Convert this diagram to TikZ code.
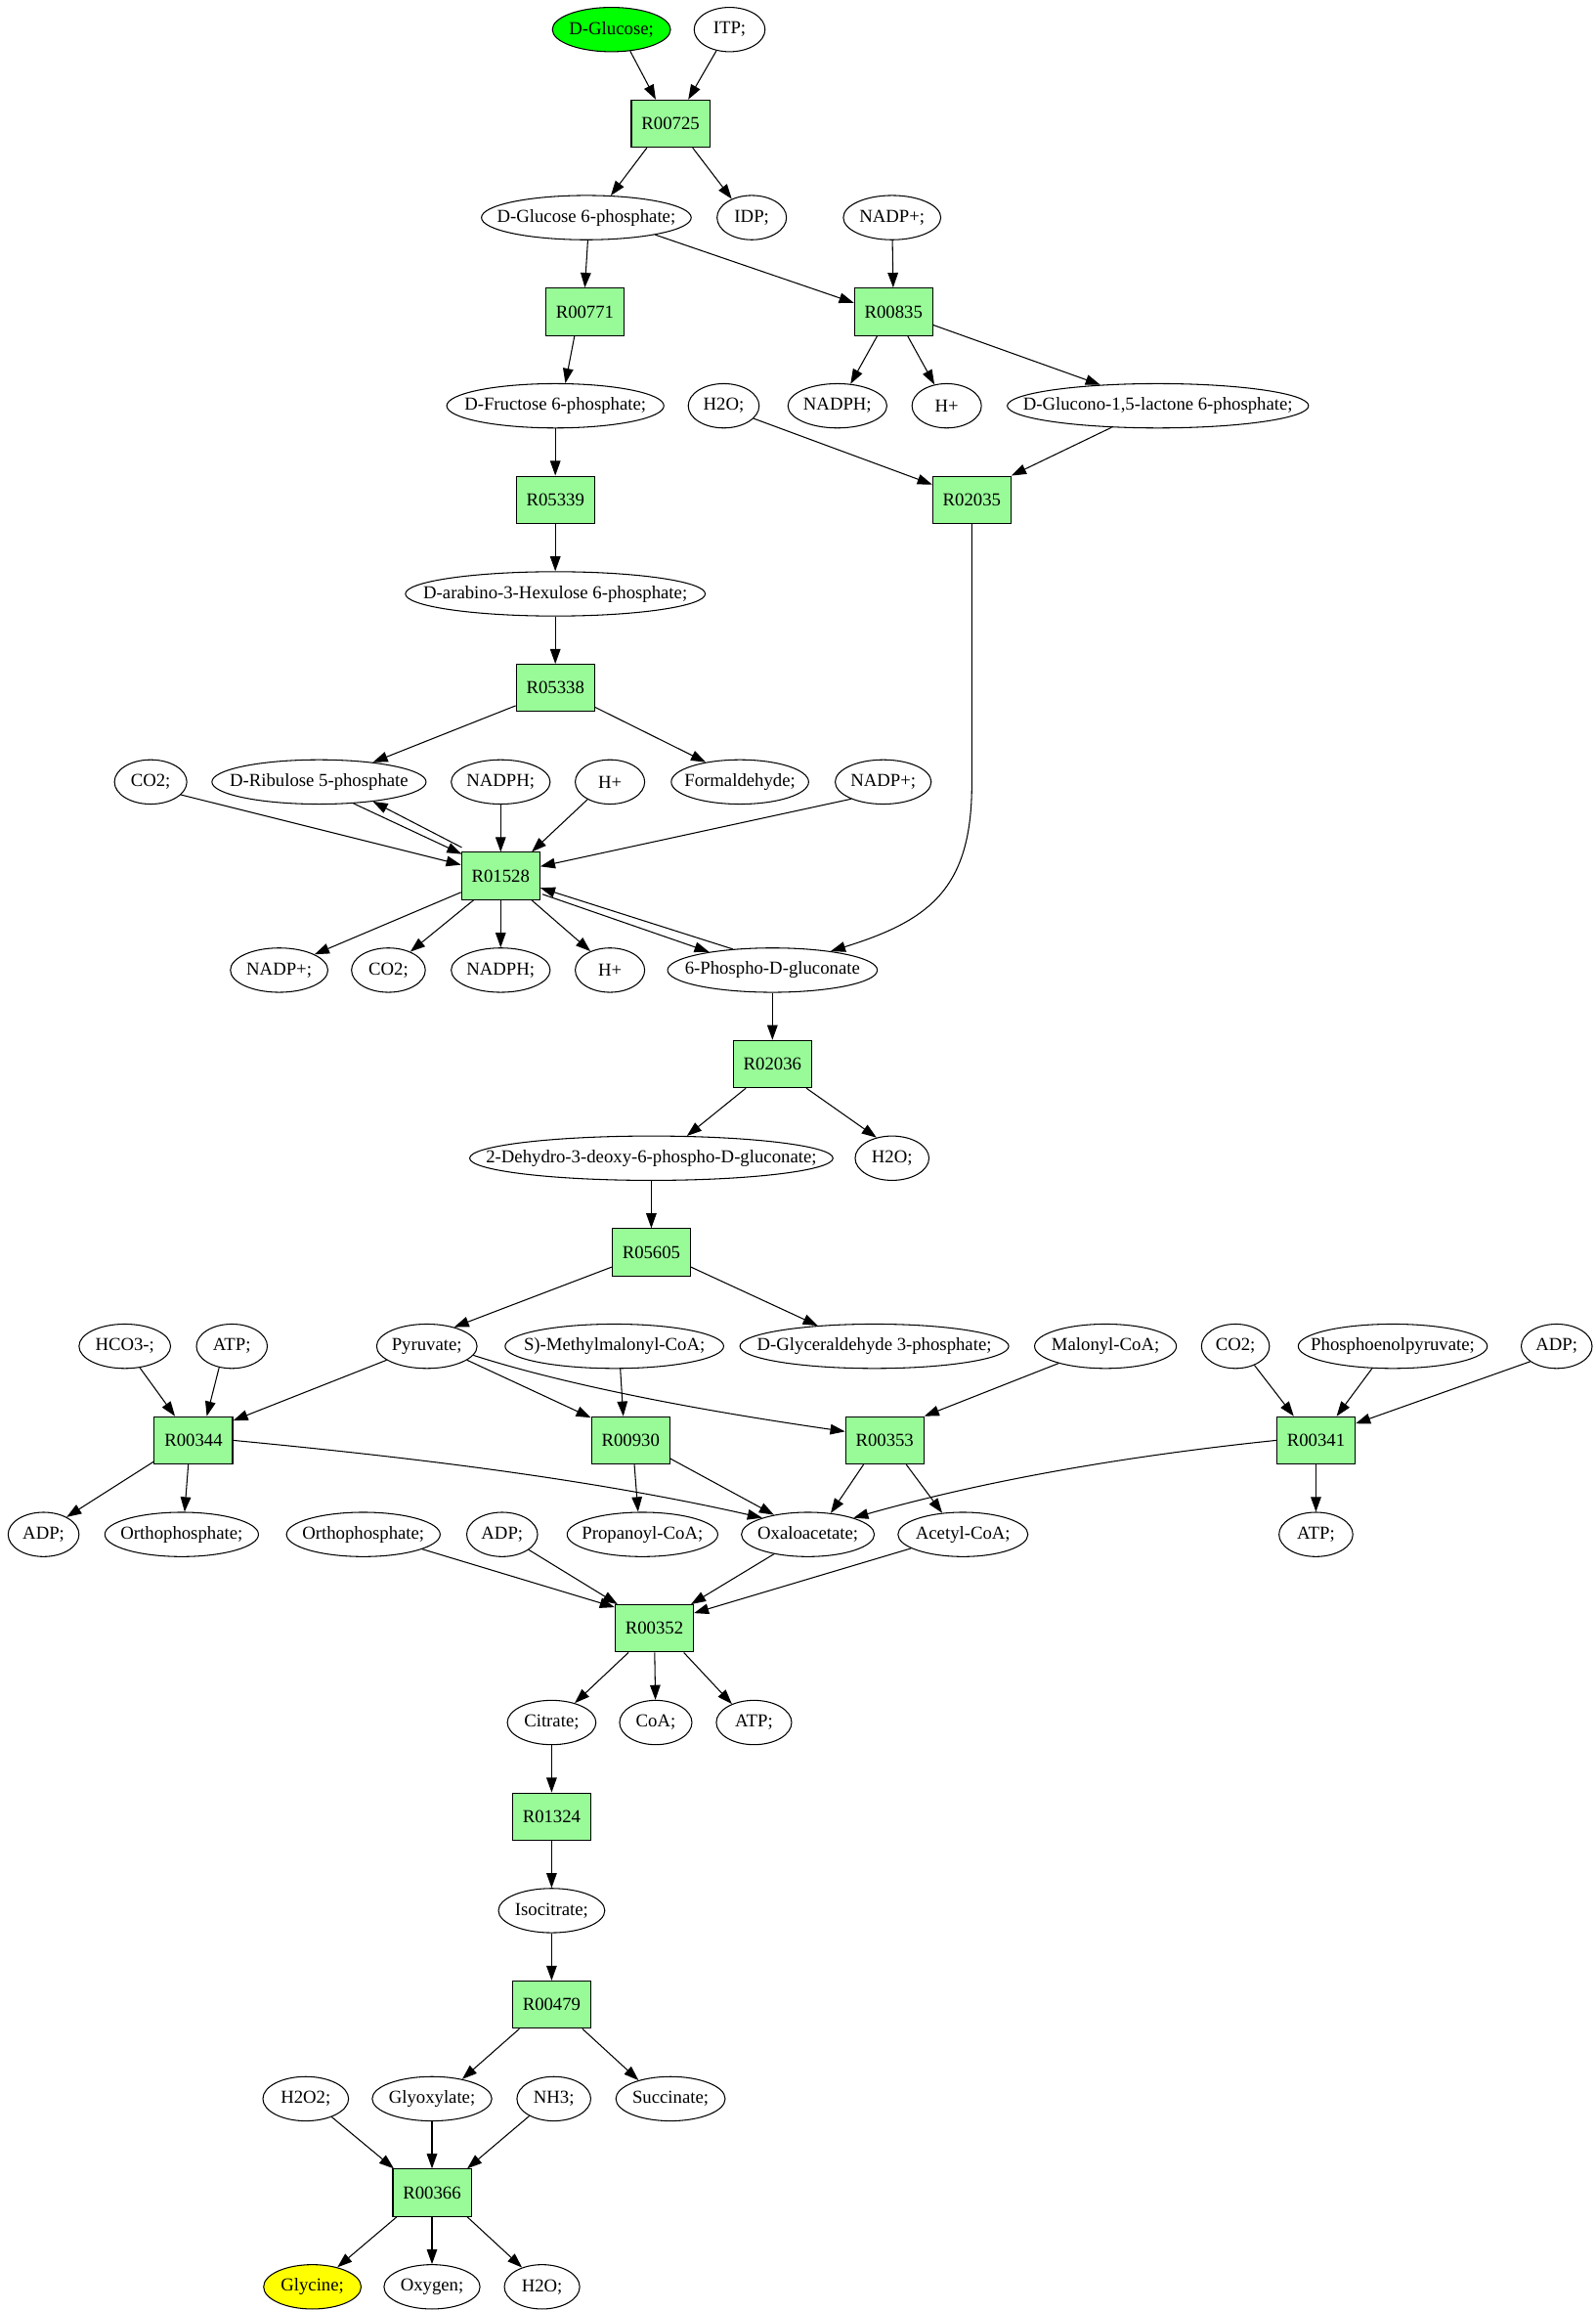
\documentclass[tikz,border=0pt]{standalone}
\usepackage{fontspec}
\setmainfont{Liberation Serif}
\usetikzlibrary{arrows.meta,shapes.geometric}
\definecolor{rxn}{RGB}{152,251,152}
\definecolor{startc}{RGB}{0,255,0}
\definecolor{endc}{RGB}{255,255,0}
\newcommand{\mtxt}[1]{\makebox[0pt][c]{#1}}
\begin{document}
\begin{tikzpicture}[x=1pt,y=-1pt,
  every node/.style={font=\fontsize{12.4}{14}\selectfont},
  met/.style={draw, ellipse, line width=0.7pt, minimum height=30pt, inner sep=0pt},
  rx/.style={draw, rectangle, fill=rxn, line width=0.7pt, minimum width=53pt, minimum height=32pt, inner sep=0pt},
  arr/.style={-{Triangle[length=10pt,width=7pt]}, line width=0.7pt}]
\useasboundingbox (0,0) rectangle (1080,1563.7);
% rank 0
\node[met, minimum width=80pt, fill=startc] (glc) at (414,20) {\mtxt{D-Glucose;}};
\node[met, minimum width=48pt] (itp) at (494,20) {\mtxt{ITP;}};
% rank 1
\node[rx] (r00725) at (454,83.7) {R00725};
% rank 2
\node[met, minimum width=142pt] (g6p) at (397,147.3) {\mtxt{D-Glucose 6-phosphate;}};
\node[met, minimum width=47pt] (idp) at (509,147.3) {\mtxt{IDP;}};
\node[met, minimum width=66pt] (nadpA) at (604,147.3) {\mtxt{NADP+;}};
% rank 3
\node[rx] (r00771) at (396,211) {R00771};
\node[rx] (r00835) at (605,211) {R00835};
% rank 4
\node[met, minimum width=147pt] (f6p) at (376,274.7) {\mtxt{D-Fructose 6-phosphate;}};
\node[met, minimum width=48pt] (h2oA) at (490,274.7) {\mtxt{H2O;}};
\node[met, minimum width=67pt] (nadphA) at (567,274.7) {\mtxt{NADPH;}};
\node[met, minimum width=47pt] (hA) at (641,274.7) {\mtxt{H+}};
\node[met, minimum width=204pt] (glucono) at (784,274.7) {\mtxt{D-Glucono-1,5-lactone 6-phosphate;}};
% rank 5
\node[rx] (r05339) at (376,338.3) {R05339};
\node[rx] (r02035) at (658,338.3) {R02035};
% rank 6
\node[met, minimum width=203pt] (hexu) at (376,402) {\mtxt{D-arabino-3-Hexulose 6-phosphate;}};
% rank 7
\node[rx] (r05338) at (376,465.7) {R05338};
% rank 8
\node[met, minimum width=49pt] (co2A) at (102,529.3) {\mtxt{CO2;}};
\node[met, minimum width=145pt] (rib) at (216,529.3) {\mtxt{D-Ribulose 5-phosphate}};
\node[met, minimum width=67pt] (nadphB) at (339,529.3) {\mtxt{NADPH;}};
\node[met, minimum width=47pt] (hB) at (413,529.3) {\mtxt{H+}};
\node[met, minimum width=93pt] (form) at (501,529.3) {\mtxt{Formaldehyde;}};
\node[met, minimum width=65pt] (nadpB) at (598,529.3) {\mtxt{NADP+;}};
% rank 9
\node[rx] (r01528) at (339,593) {R01528};
% rank 10
\node[met, minimum width=66pt] (nadpC) at (189,656.7) {\mtxt{NADP+;}};
\node[met, minimum width=50pt] (co2B) at (263,656.7) {\mtxt{CO2;}};
\node[met, minimum width=67pt] (nadphC) at (339,656.7) {\mtxt{NADPH;}};
\node[met, minimum width=47pt] (hC) at (413,656.7) {\mtxt{H+}};
\node[met, minimum width=142pt] (pg) at (523,656.7) {\mtxt{6-Phospho-D-gluconate}};
% rank 11
\node[rx] (r02036) at (523,720.3) {R02036};
% rank 12
\node[met, minimum width=246pt] (kdpg) at (441,784) {\mtxt{2-Dehydro-3-deoxy-6-phospho-D-gluconate;}};
\node[met, minimum width=50pt] (h2oB) at (604,784) {\mtxt{H2O;}};
% rank 13
\node[rx] (r05605) at (441,847.7) {R05605};
% rank 14
\node[met, minimum width=62pt] (hco3) at (84.5,911.3) {\mtxt{HCO3-;}};
\node[met, minimum width=48pt] (atpA) at (157,911.3) {\mtxt{ATP;}};
\node[met, minimum width=68pt] (pyr) at (289,911.3) {\mtxt{Pyruvate;}};
\node[met, minimum width=148pt] (mmcoa) at (416,911.3) {\mtxt{S)-Methylmalonyl-CoA;}};
\node[met, minimum width=182pt] (gap) at (592,911.3) {\mtxt{D-Glyceraldehyde 3-phosphate;}};
\node[met, minimum width=96pt] (malcoa) at (748.5,911.3) {\mtxt{Malonyl-CoA;}};
\node[met, minimum width=46pt] (co2C) at (836.5,911.3) {\mtxt{CO2;}};
\node[met, minimum width=128pt] (pep) at (943,911.3) {\mtxt{Phosphoenolpyruvate;}};
\node[met, minimum width=48pt] (adpA) at (1054,911.3) {\mtxt{ADP;}};
% rank 15
\node[rx] (r00344) at (131,975) {R00344};
\node[rx] (r00930) at (427,975) {R00930};
\node[rx] (r00353) at (599,975) {R00353};
\node[rx] (r00341) at (891,975) {R00341};
% rank 16
\node[met, minimum width=48pt] (adpB) at (29.5,1038.7) {\mtxt{ADP;}};
\node[met, minimum width=104pt] (orthoA) at (123,1038.7) {\mtxt{Orthophosphate;}};
\node[met, minimum width=104pt] (orthoB) at (246,1038.7) {\mtxt{Orthophosphate;}};
\node[met, minimum width=48pt] (adpC) at (340,1038.7) {\mtxt{ADP;}};
\node[met, minimum width=102pt] (propcoa) at (435,1038.7) {\mtxt{Propanoyl-CoA;}};
\node[met, minimum width=90pt] (oaa) at (547,1038.7) {\mtxt{Oxaloacetate;}};
\node[met, minimum width=88pt] (accoa) at (652,1038.7) {\mtxt{Acetyl-CoA;}};
\node[met, minimum width=50pt] (atpB) at (891,1038.7) {\mtxt{ATP;}};
% rank 17
\node[rx] (r00352) at (443,1102.3) {R00352};
% rank 18
\node[met, minimum width=60pt] (citrate) at (373.5,1166) {\mtxt{Citrate;}};
\node[met, minimum width=49pt] (coa) at (444,1166) {\mtxt{CoA;}};
\node[met, minimum width=51pt] (atpC) at (510.5,1166) {\mtxt{ATP;}};
% rank 19
\node[rx] (r01324) at (373.5,1229.7) {R01324};
% rank 20
\node[met, minimum width=72pt] (isocit) at (373.5,1293.3) {\mtxt{Isocitrate;}};
% rank 21
\node[rx] (r00479) at (373.5,1357) {R00479};
% rank 22
\node[met, minimum width=58pt] (h2o2) at (207,1420.7) {\mtxt{H2O2;}};
\node[met, minimum width=81pt] (glyox) at (292.5,1420.7) {\mtxt{Glyoxylate;}};
\node[met, minimum width=50pt] (nh3) at (375,1420.7) {\mtxt{NH3;}};
\node[met, minimum width=74pt] (succ) at (454,1420.7) {\mtxt{Succinate;}};
% rank 23
\node[rx] (r00366) at (292.5,1484.3) {R00366};
% rank 24
\node[met, minimum width=66pt, fill=endc] (glycine) at (211.5,1548) {\mtxt{Glycine;}};
\node[met, minimum width=65pt] (oxygen) at (292.5,1548) {\mtxt{Oxygen;}};
\node[met, minimum width=51pt] (h2oC) at (367,1548) {\mtxt{H2O;}};
% edges
\draw[arr] (glc.-49) -- ([xshift=-10pt]r00725.north);
\draw[arr] (itp.-122) -- ([xshift=12pt]r00725.north);
\draw[arr] ([xshift=-16pt]r00725.south) -- (g6p.42);
\draw[arr] ([xshift=15pt]r00725.south) -- (idp.137);
\draw[arr] ([xshift=1pt]g6p.south) -- (r00771.north);
\draw[arr] (g6p.-14) -- ([yshift=6pt]r00835.west);
\draw[arr] (nadpA) -- (r00835);
\draw[arr] ([xshift=-7pt]r00771.south) -- (f6p.66);
\draw[arr] ([xshift=-11pt]r00835.south) -- (nadphA.59);
\draw[arr] ([xshift=9.5pt]r00835.south) -- (hA.120);
\draw[arr] ([yshift=-9pt]r00835.east) -- (glucono.160);
\draw[arr] (f6p) -- (r05339);
\draw[arr] (h2oA.-23) -- ([yshift=-6pt]r02035.north west);
\draw[arr] (glucono.-155) -- (r02035.north east);
\draw[arr] (r05339) -- (hexu);
\draw[arr] (hexu) -- (r05338);
\draw[arr] ([yshift=-12pt]r05338.west) -- (rib.20);
\draw[arr] ([yshift=-13pt]r05338.east) -- (form.150);
\draw[arr] (co2A.-23) -- ([yshift=7.6pt]r01528.west);
\draw[arr] (nadphB) -- (r01528);
\draw[arr] (hB.-142) -- ([xshift=21pt]r01528.north);
\draw[arr] (nadpB.-152) -- ([yshift=6.5pt]r01528.east);
\draw[arr] (rib.-32) -- ([shift={(0.5,1.5)}]r01528.north west);
\draw[arr] ([shift={(0.5,-3)}]r01528.north west) -- (rib.-20);
\draw[arr] ([yshift=-11pt]r01528.west) -- (nadpC.24);
\draw[arr] ([xshift=-18.4pt]r01528.south) -- (co2B.40);
\draw[arr] (r01528) -- (nadphC);
\draw[arr] ([xshift=21pt]r01528.south) -- (hC.136);
\draw[arr] ([shift={(1.5,-4)}]r01528.south east) -- (pg.164);
\draw[arr] (pg.152) -- ([yshift=-8pt]r01528.east);
\draw[arr] (r02035.south) -- ([shift={(0,176)}]r02035.south) .. controls ([shift={(0,246)}]r02035.south) and ([shift={(68,-21)}]pg.18) .. (pg.18);
\draw[arr] (pg) -- (r02036);
\draw[arr] ([xshift=-18pt]r02036.south) -- (kdpg.32);
\draw[arr] ([xshift=23pt]r02036.south) -- (h2oB.127);
\draw[arr] (kdpg) -- (r05605);
\draw[arr] ([yshift=-10pt]r05605.west) -- (pyr.35);
\draw[arr] ([yshift=-10pt]r05605.east) -- (gap.160);
\draw[arr] (hco3.-55) -- ([xshift=-12.5pt]r00344.north);
\draw[arr] (atpA.-121) -- ([xshift=9pt]r00344.north);
\draw[arr] (pyr.-161) -- ([yshift=-3pt]r00344.north east);
\draw[arr] (pyr.-19) -- ([yshift=-1pt]r00930.north west);
\draw[arr] (pyr.-11) .. controls ([shift={(73,23.5)}]pyr.-11) and ([shift={(-76,-17)}]r00353.west) .. ([yshift=6pt]r00353.west);
\draw[arr] ([xshift=4pt]mmcoa.south) -- ([xshift=-5pt]r00930.north);
\draw[arr] (malcoa.-160) -- (r00353.north east);
\draw[arr] (co2C.-45) -- ([xshift=-15pt]r00341.north);
\draw[arr] (pep.-133) -- ([xshift=14pt]r00341.north);
\draw[arr] (adpA.-150) -- ([yshift=-5pt]r00341.north east);
\draw[arr] ([yshift=2pt]r00344.south west) -- (adpB.37);
\draw[arr] ([xshift=-3.5pt]r00344.south) -- ([xshift=2pt]orthoA.north);
\draw[arr] (r00344.east) .. controls ([shift={(119.5,11.4)}]r00344.east) and ([shift={(-117,-26.5)}]oaa.160) .. (oaa.160);
\draw[arr] ([xshift=2.5pt]r00930.south) -- ([xshift=-3pt]propcoa.north);
\draw[arr] ([yshift=4pt]r00930.south east) -- (oaa.150);
\draw[arr] ([xshift=-14.3pt]r00353.south) -- (oaa.43);
\draw[arr] ([xshift=14.6pt]r00353.south) -- (accoa.134);
\draw[arr] (r00341.west) .. controls ([shift={(-96.5,10)}]r00341.west) and ([shift={(93.3,-26.4)}]oaa.20) .. (oaa.20);
\draw[arr] (r00341) -- (atpB);
\draw[arr] (orthoB.-14) -- ([yshift=-2pt]r00352.north west);
\draw[arr] (adpC.-30) -- ([xshift=2pt]r00352.north west);
\draw[arr] (oaa.-150) -- ([xshift=-2pt]r00352.north east);
\draw[arr] (accoa.-165) -- ([yshift=-6pt]r00352.north east);
\draw[arr] ([xshift=-17.5pt]r00352.south) -- (citrate.40);
\draw[arr] (r00352) -- (coa);
\draw[arr] ([xshift=20pt]r00352.south) -- (atpC.140);
\draw[arr] (citrate) -- (r01324);
\draw[arr] (r01324) -- (isocit);
\draw[arr] (isocit) -- (r00479);
\draw[arr] ([xshift=5pt]r00479.south west) -- (glyox.33);
\draw[arr] ([xshift=-6pt]r00479.south east) -- (succ.150);
\draw[arr] (h2o2.-35) -- ([xshift=1pt]r00366.north west);
\draw[arr] (glyox) -- (r00366);
\draw[arr] (nh3.-145) -- ([xshift=-3pt]r00366.north east);
\draw[arr] ([xshift=3pt]r00366.south west) -- (glycine.38);
\draw[arr] (r00366) -- (oxygen);
\draw[arr] ([xshift=-3pt]r00366.south east) -- (h2oC.136);
\end{tikzpicture}
\end{document}
